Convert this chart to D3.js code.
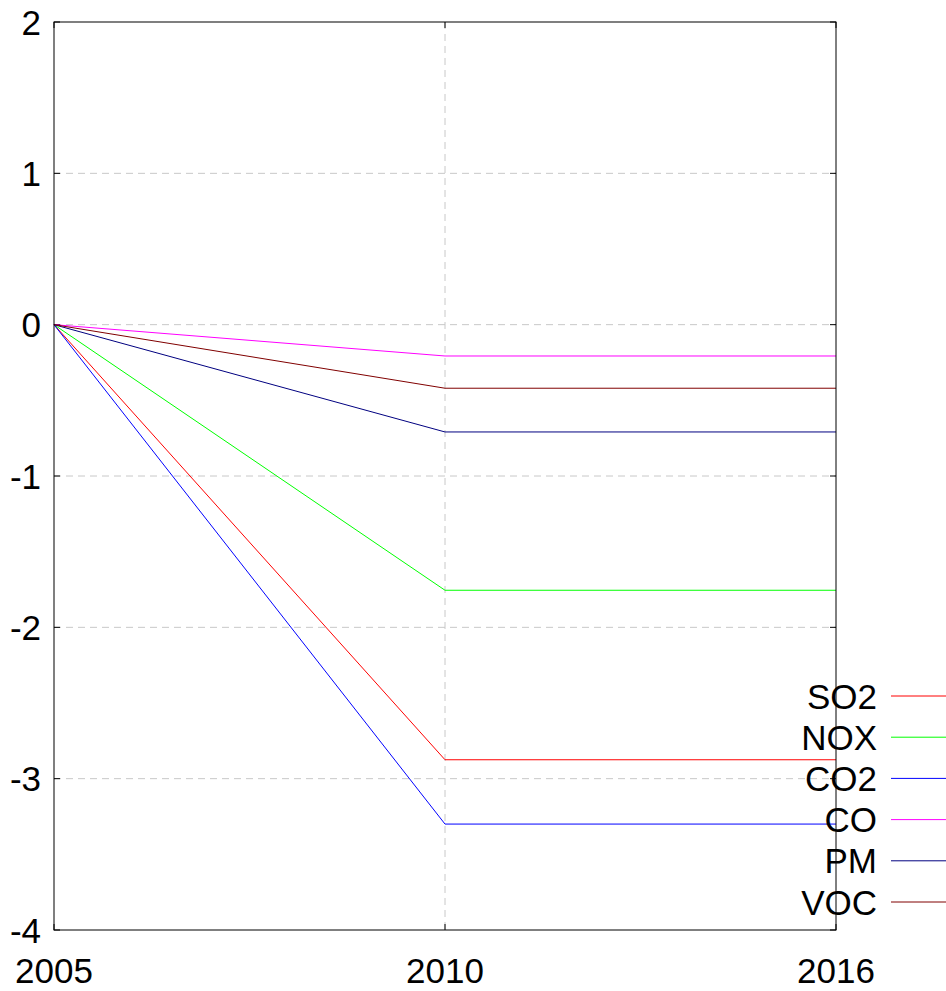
<!DOCTYPE html>
<html><head><meta charset="utf-8">
<script src="https://cdn.jsdelivr.net/npm/d3@7"></script>
<style>body{margin:0;background:#fff}svg{display:block;font-family:"Liberation Sans",Arial,sans-serif}</style>
</head><body><svg id="c" width="946" height="991"></svg>
<script>
const years = ["2005", "2010", "2016"];
const seriesNames = ["SO2", "NOX", "CO2", "CO", "PM", "VOC"];
const seriesColors = ["#ff0000", "#00ff00", "#0000ff", "#ff00ff", "#000080", "#800000"];
const SO2 = [0, -2.875, -2.875];
const NOX = [0, -1.755, -1.755];
const CO2 = [0, -3.30, -3.30];
const CO = [0, -0.207, -0.207];
const PM = [0, -0.709, -0.709];
const VOC = [0, -0.42, -0.42];
const seriesValues = [SO2, NOX, CO2, CO, PM, VOC];
const yTicks = [-4, -3, -2, -1, 0, 1, 2];

const svg = d3.select("#c");
const L = 54, R = 836, T = 22, B = 930;
const x = d3.scalePoint().domain(years).range([L, R]);
const y = d3.scaleLinear().domain([-4, 2]).range([B, T]);
const fs = 35;

// grid
const g = svg.append("g");
g.selectAll("line.hy").data(yTicks.filter(v => v > -4 && v < 2)).join("line")
  .attr("x1", L).attr("x2", R).attr("y1", d => y(d)).attr("y2", d => y(d))
  .attr("stroke", "#c8c8c8").attr("stroke-width", 1).attr("stroke-dasharray", "7,5");
g.selectAll("line.vx").data(years.slice(1, -1)).join("line")
  .attr("x1", d => x(d)).attr("x2", d => x(d)).attr("y1", T).attr("y2", B)
  .attr("stroke", "#c8c8c8").attr("stroke-width", 1).attr("stroke-dasharray", "7,5");

// ticks (inward, mirrored)
const tk = 6;
yTicks.forEach(v => {
  svg.append("line").attr("x1", L).attr("x2", L + tk).attr("y1", y(v)).attr("y2", y(v)).attr("stroke", "#000");
  svg.append("line").attr("x1", R - tk).attr("x2", R).attr("y1", y(v)).attr("y2", y(v)).attr("stroke", "#000");
});
years.forEach(v => {
  svg.append("line").attr("x1", x(v)).attr("x2", x(v)).attr("y1", B).attr("y2", B - tk).attr("stroke", "#000");
  svg.append("line").attr("x1", x(v)).attr("x2", x(v)).attr("y1", T).attr("y2", T + tk).attr("stroke", "#000");
});

// series lines
const line = d3.line().x((d, i) => x(years[i])).y(d => y(d));
seriesValues.forEach((vals, i) => {
  svg.append("path").attr("d", line(vals)).attr("fill", "none")
    .attr("stroke", seriesColors[i]).attr("stroke-width", 1);
});

// axis labels
svg.selectAll("text.yl").data(yTicks).join("text")
  .attr("x", 41).attr("y", d => y(d)).attr("text-anchor", "end")
  .attr("dominant-baseline", "central").attr("font-size", fs).text(d => d);
svg.selectAll("text.xl").data(years).join("text")
  .attr("x", d => x(d)).attr("y", 983).attr("text-anchor", "middle")
  .attr("font-size", fs).text(d => d);

// legend
seriesNames.forEach((n, i) => {
  const ly = 696 + i * 41.2;
  svg.append("text").attr("x", 877).attr("y", ly).attr("text-anchor", "end")
    .attr("dominant-baseline", "central").attr("font-size", fs).text(n);
  svg.append("line").attr("x1", 891).attr("x2", 946).attr("y1", ly).attr("y2", ly)
    .attr("stroke", seriesColors[i]).attr("stroke-width", 1);
});

// border
svg.append("rect").attr("x", L).attr("y", T).attr("width", R - L).attr("height", B - T)
  .attr("fill", "none").attr("stroke", "#000").attr("stroke-width", 1);
</script></body></html>
